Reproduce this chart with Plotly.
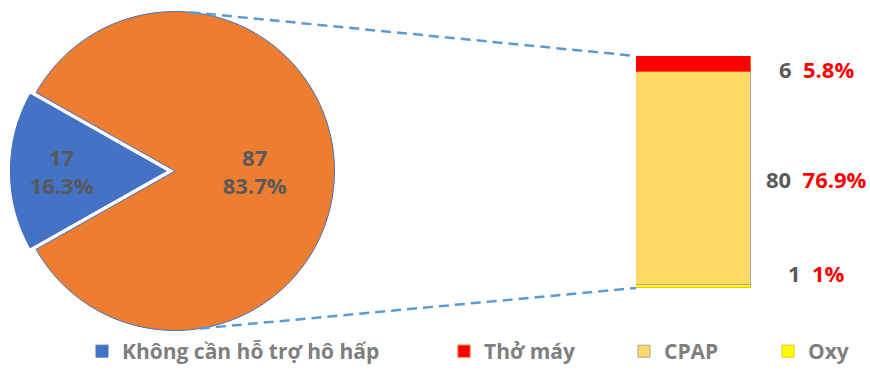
import math
import plotly.graph_objects as go

# ---------------- data ----------------
pie_labels = ["Không cần hỗ trợ hô hấp", "Hỗ trợ hô hấp"]
pie_values = [17, 87]
bar_labels = ["Oxy", "CPAP", "Thở máy"]       # bottom -> top
bar_values = [1, 80, 6]
legend_labels = ["Không cần hỗ trợ hô hấp", "Thở máy", "CPAP", "Oxy"]

# ---------------- style ----------------
W, H = 870, 372
FONT = "Open Sans"
DARK = "#595959"
LEG = "#7F7F7F"
RED = "#FF0000"
pie_colors = ["#4472C4", "#ED7D31"]
bar_colors = {"Oxy": "#FFFF00", "CPAP": "#FFD966", "Thở máy": "#FF0000"}
bar_lines = {"Oxy": "#FFC000", "CPAP": "#A6A6A6", "Thở máy": "#FF5A00"}

# pie geometry (pixels)
PULL = 0.04
pcx, pcy, pr = 175, 171, 159.5
half = pr * (1 + PULL)
pie_dom_x = [(pcx - half) / W, (pcx + half) / W]
pie_dom_y = [(H - pcy - half) / H, (H - pcy + half) / H]

# bar geometry (pixels)
bx0, bx1, by_top, by_bot = 636, 751, 56, 288
bar_dom_x = [bx0 / W, bx1 / W]
bar_dom_y = [(H - by_bot) / H, (H - by_top) / H]

total = sum(pie_values)
bar_total = sum(bar_values)

fig = go.Figure()

fig.add_trace(go.Pie(
    labels=pie_labels, values=pie_values, sort=False,
    direction="clockwise",
    rotation=270 - 180 * pie_values[0] / total,
    pull=[PULL, 0],
    marker=dict(colors=pie_colors, line=dict(color=["#FFFFFF", "#4472C4"], width=[1.5, 1])),
    texttemplate="%{value}<br>%{percent:.1%}",
    textposition="inside", insidetextorientation="horizontal",
    textfont=dict(family=FONT, size=22, color=DARK, weight="bold"),
    domain=dict(x=pie_dom_x, y=pie_dom_y),
    showlegend=False, hoverinfo="label+value+percent",
))

# legend entry for the pie's blue slice
fig.add_trace(go.Bar(
    x=[None], y=[None], name=legend_labels[0],
    marker=dict(color=pie_colors[0], line=dict(color=pie_colors[0], width=1)),
    legend="legend", showlegend=True,
))

legend_of = {"Thở máy": "legend2", "CPAP": "legend3", "Oxy": "legend4"}
for lab, val in zip(bar_labels, bar_values):
    fig.add_trace(go.Bar(
        x=[0], y=[val], name=lab, width=1,
        marker=dict(color=bar_colors[lab], line=dict(color=bar_lines[lab], width=1)),
        legend=legend_of[lab], showlegend=True, hoverinfo="name+y",
    ))

# value / percent labels beside the bar
label_shift = {"Oxy": 14, "CPAP": 0, "Thở máy": -5}
cum = 0
for lab, val in zip(bar_labels, bar_values):
    mid = cum + val / 2
    cum += val
    pct = round(val / total * 100, 1)
    fig.add_annotation(
        x=816 / W, xref="paper", y=mid, yref="y", yshift=label_shift[lab],
        text=f"{val}&nbsp;&nbsp;<span style='color:{RED}'>{pct:g}%</span>",
        showarrow=False, xanchor="center", yanchor="middle",
        font=dict(family=FONT, size=22, color=DARK, weight="bold"),
    )

# dashed connectors pie -> bar
def pie_pt(angle_deg):
    a = math.radians(angle_deg)
    return pcx + pr * math.sin(a), pcy - pr * math.cos(a)

tx, ty = pie_pt(5.4)
bx_, by_ = pie_pt(171)
for (x0, y0), (x1, y1) in [((tx, ty), (bx0, by_top)), ((bx_, by_), (bx0, by_bot))]:
    fig.add_shape(type="line", xref="paper", yref="paper",
                  x0=x0 / W, y0=(H - y0) / H, x1=x1 / W, y1=(H - y1) / H,
                  line=dict(color="#5B9BD5", width=2.5, dash="10px,6px"))

leg_font = dict(family=FONT, size=21, color=LEG, weight="bold")
leg_common = dict(orientation="h", yanchor="bottom", y=0, xanchor="left",
                  font=leg_font, bgcolor="rgba(0,0,0,0)", borderwidth=0)
fig.update_layout(
    width=W, height=H, margin=dict(l=0, r=0, t=0, b=0),
    paper_bgcolor="white", plot_bgcolor="white",
    barmode="stack", bargap=0,
    xaxis=dict(domain=bar_dom_x, range=[-0.5, 0.5], visible=False, fixedrange=True),
    yaxis=dict(domain=bar_dom_y, range=[0, bar_total], visible=False, fixedrange=True),
    legend=dict(x=(98 - 16) / W, **leg_common),
    legend2=dict(x=(460 - 16) / W, **leg_common),
    legend3=dict(x=(640 - 16) / W, **leg_common),
    legend4=dict(x=(784 - 16) / W, **leg_common),
)

fig.write_html("out.html")
